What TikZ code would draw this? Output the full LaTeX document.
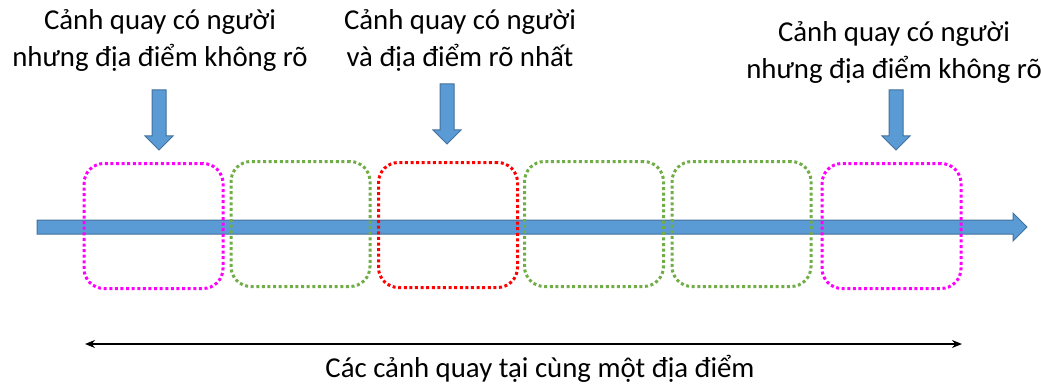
\documentclass[tikz,border=0pt]{standalone}
\usepackage{fontspec}
\setmainfont{Carlito}
\usetikzlibrary{arrows.meta}

\definecolor{arrowblue}{HTML}{5B9BD5}
\definecolor{arrowedge}{HTML}{41719C}
\definecolor{shotgreen}{HTML}{70AD47}
\definecolor{shotpink}{HTML}{FF00FF}
\definecolor{shotred}{HTML}{FF0000}

\tikzset{
  shot/.style={draw, line width=3pt, dash pattern=on 3pt off 2.6pt,
    rounded corners=20pt, minimum width=139pt, minimum height=125pt, inner sep=0pt},
  caption/.style={align=center, font=\fontsize{28.8}{37}\selectfont, inner sep=0pt},
  downarrow/.pic={code={%
      % small block arrow pointing down, origin at the top of the shaft
      \draw [fill=arrowblue, draw=arrowedge, line width=1pt]
        (-7,0) -- (7,0) -- (7,46) -- (14,46) -- (0,60) -- (-14,46) -- (-7,46) -- cycle;
  }}
}

\begin{document}
\begin{tikzpicture}[x=1pt, y=-1pt]
    \useasboundingbox (0,0) rectangle (1041,385);

    % time line
    \draw [fill=arrowblue, draw=arrowedge, line width=1pt]
      (37,220) -- (1013,220) -- (1013,213) -- (1027,227) -- (1013,241)
      -- (1013,234) -- (37,234) -- cycle;

    % shots along the line
    \node [shot, draw=shotpink]  (s1) at (153.5,226) {};
    \node [shot, draw=shotgreen] (s2) at (300.5,224) {};
    \node [shot, draw=shotred]   (s3) at (448,225) {};
    \node [shot, draw=shotgreen] (s4) at (594,224) {};
    \node [shot, draw=shotgreen] (s5) at (741.5,224) {};
    \node [shot, draw=shotpink]  (s6) at (891.5,226) {};

    % labels and pointers
    \node [caption] (t1) at (160,40) {Cảnh quay có người\\nhưng địa điểm không rõ};
    \node [caption] (t3) at (460,40) {Cảnh quay có người\\và địa điểm rõ nhất};
    \node [caption] (t6) at (894,52) {Cảnh quay có người\\nhưng địa điểm không rõ};
    \path (159,90) pic {downarrow};
    \path (447,84) pic {downarrow};
    \path (896,90) pic {downarrow};

    % span of the same place
    \coordinate (L) at (85,344);
    \coordinate (R) at (962,344);
    \draw [line width=1.8pt, {Stealth[length=10pt,width=8pt]}-{Stealth[length=10pt,width=8pt]}] (L) -- (R);
    \node [caption, anchor=base] (span) at (540,377) {Các cảnh quay tại cùng một địa điểm};
\end{tikzpicture}
\end{document}
